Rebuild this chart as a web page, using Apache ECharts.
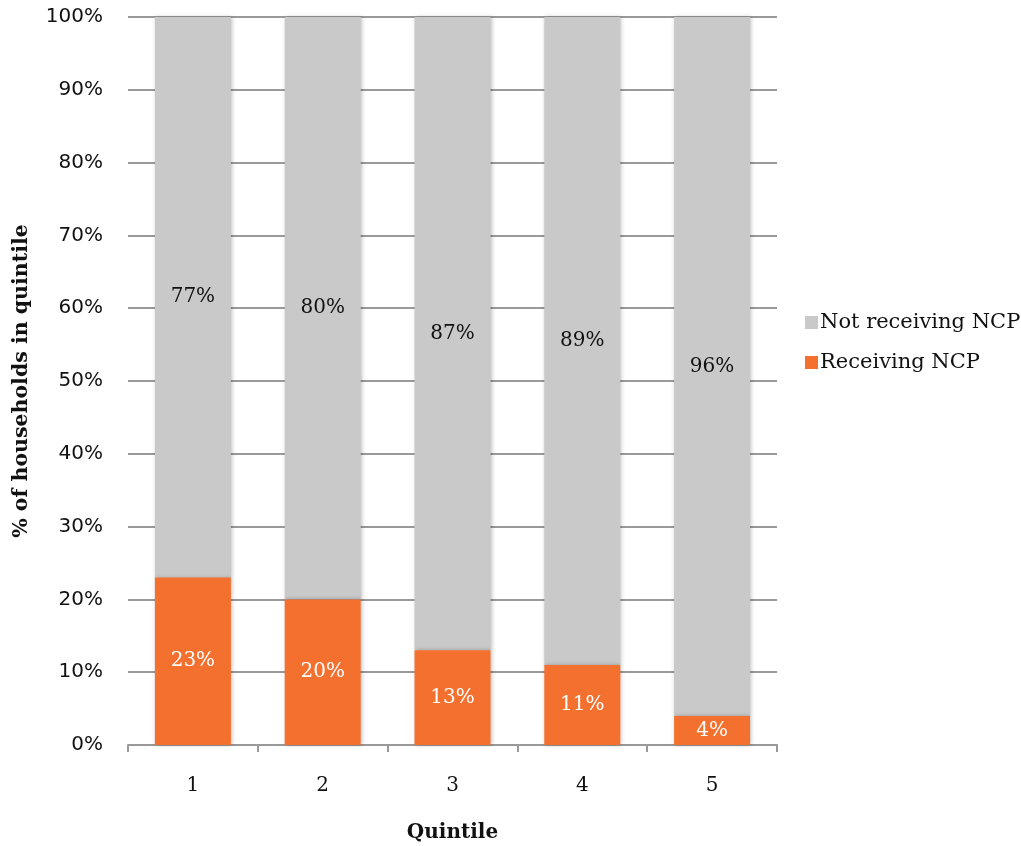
<!DOCTYPE html>
<html>
<head>
<meta charset="utf-8">
<script src="https://cdn.jsdelivr.net/npm/echarts@6/dist/echarts.min.js"></script>
<style>
  html, body { margin: 0; padding: 0; background: #fff; }
  #chart { width: 1021px; height: 846px; }
</style>
</head>
<body>
<div id="chart"></div>
<script>
// Share of households receiving NCP, by income quintile
const quintiles = ['1', '2', '3', '4', '5'];
const receiving = [23, 20, 13, 11, 4];
const notReceiving = [77, 80, 87, 89, 96];
const yTicks = [0, 10, 20, 30, 40, 50, 60, 70, 80, 90, 100];

const slab = '"DejaVu Serif", "Liberation Serif", serif';
const sans = '"DejaVu Sans", sans-serif';
const barShadow = { shadowBlur: 4, shadowColor: 'rgba(0,0,0,0.25)', shadowOffsetX: 1, shadowOffsetY: 0 };

const chart = echarts.init(document.getElementById('chart'), null, { renderer: 'canvas' });
chart.setOption({
  animation: false,
  grid: { left: 128, right: 244, top: 17, bottom: 101, outerBoundsMode: 'none', containLabel: false },
  legend: {
    orient: 'vertical',
    left: 800,
    top: 307,
    itemWidth: 13,
    itemHeight: 13,
    itemGap: 19,
    icon: 'rect',
    textStyle: { fontFamily: slab, fontSize: 21, color: '#111', padding: [0, 0, 0, -3] },
    data: ['Not receiving NCP', 'Receiving NCP']
  },
  xAxis: {
    type: 'category',
    data: quintiles,
    name: 'Quintile',
    nameLocation: 'middle',
    nameGap: 78,
    nameTextStyle: { fontFamily: slab, fontWeight: 'bold', fontSize: 20, color: '#111' },
    axisLine: { lineStyle: { color: '#999', width: 2 } },
    axisTick: { show: true, length: 7, lineStyle: { color: '#999', width: 2 } },
    axisLabel: { fontFamily: slab, fontSize: 20, color: '#111', margin: 31 }
  },
  yAxis: {
    type: 'value',
    min: 0,
    max: 100,
    interval: 10,
    name: '% of households in quintile',
    nameLocation: 'middle',
    nameGap: 96,
    nameTextStyle: { fontFamily: slab, fontWeight: 'bold', fontSize: 20.5, color: '#111' },
    axisLine: { show: false },
    axisTick: { show: false },
    splitLine: { lineStyle: { color: '#999', width: 2 } },
    axisLabel: {
      fontFamily: sans, fontSize: 20, color: '#111', margin: 25,
      formatter: v => (yTicks.includes(v) ? v + '%' : '')
    }
  },
  series: [
    {
      name: 'Receiving NCP',
      type: 'bar',
      stack: 'total',
      barWidth: 76,
      data: receiving,
      itemStyle: Object.assign({ color: '#F4702F' }, barShadow),
      label: {
        show: true, position: 'inside', formatter: '{c}%',
        fontFamily: slab, fontSize: 20, color: '#fff'
      },
      z: 3
    },
    {
      name: 'Not receiving NCP',
      type: 'bar',
      stack: 'total',
      barWidth: 76,
      data: notReceiving,
      itemStyle: Object.assign({ color: '#C9C9C9' }, barShadow),
      label: {
        show: true, position: 'inside', formatter: '{c}%',
        fontFamily: slab, fontSize: 20, color: '#111'
      },
      z: 2
    }
  ]
});
</script>
</body>
</html>
